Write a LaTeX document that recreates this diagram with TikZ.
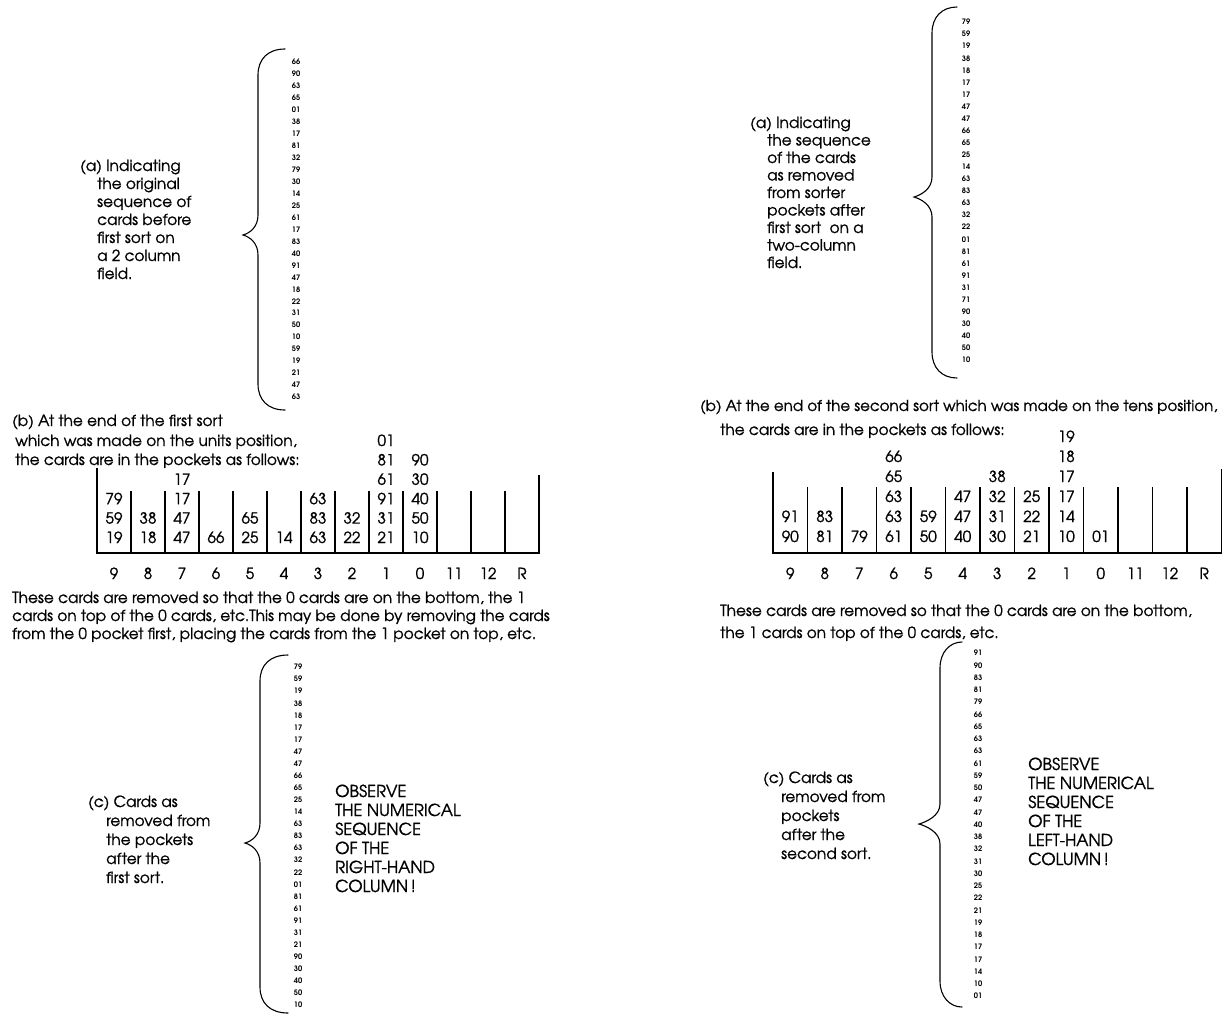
\documentclass[tikz,border=0pt]{standalone}
\usepackage{fontspec}
\setmainfont{texgyreadventor}[Extension=.otf,UprightFont=*-regular,BoldFont=*-bold,ItalicFont=*-italic,BoldItalicFont=*-bolditalic]
\newfontfamily\medf{texgyreadventor-regular.otf}[FakeBold=1]
\newfontfamily\boldf{texgyreadventor-bold.otf}
\newcommand{\mybrace}[6]{%
 \draw[brc] (#1,#2) .. controls ({#3+10},#2) and (#3,{#2+10}) .. (#3,{#2+26}) -- (#3,{#5-20})
   .. controls (#3,{#5-8}) and ({#4+7},{#5-2}) .. (#4,#5)
   .. controls ({#4+7},{#5+2}) and (#3,{#5+8}) .. (#3,{#5+20}) -- (#3,{#6-26})
   .. controls (#3,{#6-10}) and ({#3+10},#6) .. (#1,#6);}
\begin{document}
\begin{tikzpicture}[x=1pt,y=-1pt,
  txt/.style={anchor=base west,inner sep=0pt,font=\medf\fontsize{15.3}{19}\selectfont},
  obs/.style={anchor=base west,inner sep=0pt,font=\medf\fontsize{16.5}{19}\selectfont},
  pk/.style={anchor=base,inner sep=0pt,font=\medf\fontsize{15.3}{19}\selectfont},
  lst/.style={anchor=base,inner sep=0pt,font=\boldf\fontsize{7.5}{9}\selectfont},
  brc/.style={line width=1.1pt,line cap=round},
  wl/.style={line width=1.4pt}]
\useasboundingbox (0,0) rectangle (1230,1015);
\fill[white] (0,0) rectangle (1230,1015);

% ---------- LEFT (a) ----------
\mybrace{285}{49}{258}{243}{235}{410}
\foreach \v [count=\i] in {66,90,63,65,01,38,17,81,32,79,30,14,25,61,17,83,40,91,47,18,22,31,50,10,59,19,21,47,63}
  \node[lst] (la\i) at (296,{62+(\i-1)*11.96+2.8}) {\v};
\node[txt] (ta1) at (80,171) {(a) Indicating};
\foreach \s [count=\i from 2] in {the original,sequence of,cards before,first sort on,a 2 column,field.}
  \node[txt] (ta\i) at (97,{166+(\i-1)*18+5}) {\s};

% ---------- LEFT (b) ----------
\node[txt] (tb1) at (12,426) {(b) At the end of the first sort};
\node[txt] (tb2) at (15,446) {which was made on the units position,};
\node[txt] (tb3) at (15,465) {the cards are in the pockets as follows:};
\draw[wl] (97,468) -- (97,553) -- (539,553) -- (539,475);
\foreach \k in {1,...,12} \draw[wl] ({97+34*\k},491) -- ({97+34*\k},553);
\foreach \k/\r/\t [count=\i] in {0/4/79,0/5/59,0/6/19,1/5/38,1/6/18,2/3/17,2/4/17,2/5/47,2/6/47,3/6/66,4/5/65,4/6/25,5/6/14,6/4/63,6/5/83,6/6/63,7/5/32,7/6/22,8/1/01,8/2/81,8/3/61,8/4/91,8/5/31,8/6/21,9/2/90,9/3/30,9/4/40,9/5/50,9/6/10}
  \node[pk] (lp\i) at ({114+34*\k},{441+(\r-1)*19.4+5}) {\t};
\foreach \t [count=\i from 0] in {9,8,7,6,5,4,3,2,1,0,11,12,R}
  \node[pk] (ll\i) at ({114+34*\i},579) {\t};
\node[txt] (tp1) at (12,603) {These cards are removed so that the 0 cards are on the bottom, the 1};
\node[txt] (tp2) at (12,621) {cards on top of the 0 cards, etc.This may be done by removing the cards};
\node[txt] (tp3) at (12,639) {from the 0 pocket first, placing the cards from the 1 pocket on top, etc.};

% ---------- LEFT (c) ----------
\mybrace{288}{655}{260}{245}{843}{1013}
\foreach \v [count=\i] in {79,59,19,38,18,17,17,47,47,66,65,25,14,63,83,63,32,22,01,81,61,91,31,21,90,30,40,50,10}
  \node[lst] (lc\i) at (298,{667+(\i-1)*12.07+2.8}) {\v};
\node[txt] (tc1) at (88,807) {(c) Cards as};
\foreach \s [count=\i from 2] in {removed from,the pockets,after the,first sort.}
  \node[txt] (tc\i) at (106,{802+(\i-1)*19+5}) {\s};
\foreach \s [count=\i] in {OBSERVE,THE NUMERICAL,SEQUENCE,OF THE,RIGHT-HAND,COLUMN\,!}
  \node[obs] (to\i) at (335,{792+(\i-1)*19+5}) {\s};

% ---------- RIGHT (a) ----------
\mybrace{957}{7}{932}{914}{197}{378}
\foreach \v [count=\i] in {79,59,19,38,18,17,17,47,47,66,65,25,14,63,83,63,32,22,01,81,61,91,31,71,90,30,40,50,10}
  \node[lst] (ra\i) at (966,{22+(\i-1)*12.07+2.8}) {\v};
\node[txt] (sa1) at (750,128) {(a) Indicating};
\foreach \s [count=\i from 2] in {the sequence,of the cards,as removed,from sorter,pockets after,first sort\ \ on a,two-column,field.}
  \node[txt] (sa\i) at (767,{123+(\i-1)*17.5+5}) {\s};

% ---------- RIGHT (b) ----------
\node[txt,font=\medf\fontsize{15.05}{19}\selectfont] (sb1) at (700,411) {(b) At the end of the second sort which was made on the tens position,};
\node[txt] (sb2) at (720,435) {the cards are in the pockets as follows:};
\draw[wl] (773,472) -- (773,553) -- (1221.5,553) -- (1221.5,469);
\foreach \k in {1,...,12} \draw[wl] ({773+34.5*\k},487) -- ({773+34.5*\k},553);
\foreach \k/\r/\t [count=\i] in {0/5/91,0/6/90,1/5/83,1/6/81,2/6/79,3/2/66,3/3/65,3/4/63,3/5/63,3/6/61,4/5/59,4/6/50,5/4/47,5/5/47,5/6/40,6/3/38,6/4/32,6/5/31,6/6/30,7/4/25,7/5/22,7/6/21,8/1/19,8/2/18,8/3/17,8/4/17,8/5/14,8/6/10,9/6/01}
  \node[pk] (rp\i) at ({790.25+34.5*\k},{437+(\r-1)*20+5}) {\t};
\foreach \t [count=\i from 0] in {9,8,7,6,5,4,3,2,1,0,11,12,R}
  \node[pk] (rl\i) at ({790.25+34.5*\i},579) {\t};
\node[txt] (sp1) at (720,616) {These cards are removed so that\ the 0 cards are on the bottom,};
\node[txt] (sp2) at (720,638) {the 1 cards on top of the 0 cards, etc.};

% ---------- RIGHT (c) ----------
\mybrace{962}{642}{940}{919}{824}{1007}
\foreach \v [count=\i] in {91,90,83,81,79,66,65,63,63,61,59,50,47,47,40,38,32,31,30,25,22,21,19,18,17,17,14,10,01}
  \node[lst] (rc\i) at (978,{653+(\i-1)*12.25+2.8}) {\v};
\node[txt] (sc1) at (763,783) {(c) Cards as};
\foreach \s [count=\i from 2] in {removed from,pockets,after the,second sort.}
  \node[txt] (sc\i) at (781,{778+(\i-1)*19+5}) {\s};
\foreach \s [count=\i] in {OBSERVE,THE NUMERICAL,SEQUENCE,OF THE,LEFT-HAND,COLUMN\,!}
  \node[obs] (so\i) at (1028,{765+(\i-1)*19+5}) {\s};
\end{tikzpicture}
\end{document}
